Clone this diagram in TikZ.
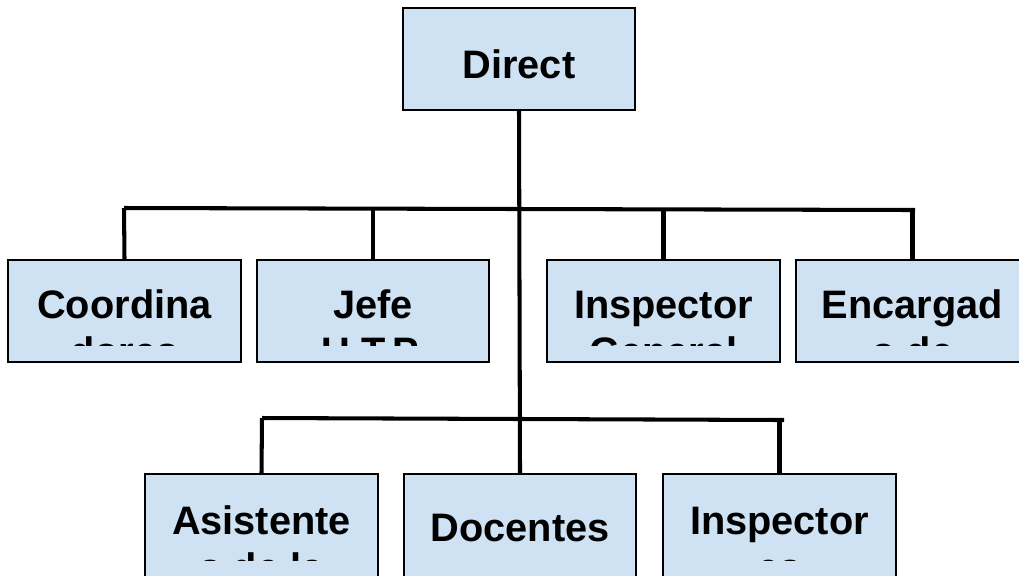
\documentclass[tikz,border=0pt]{standalone}
\usepackage{fontspec}
\setmainfont{Liberation Sans}
\definecolor{boxblue}{RGB}{207,226,243}
\tikzset{
  orgbox/.style={draw=black, line width=0.55pt, fill=boxblue, minimum width=2.32cm, minimum height=1.02cm, inner sep=0pt},
  orgtext/.style={anchor=base, inner sep=0pt, font=\fontsize{11.3}{13}\selectfont\bfseries},
  link/.style={line width=1.15pt}
}
\begin{document}
\begin{tikzpicture}[x=0.01cm,y=-0.01cm]
		\useasboundingbox (0,0) rectangle (1019,575);
		% boxes
		\node [orgbox] (Dir) at (519,59) {};
		\node [orgbox] (Coord) at (124.5,311) {};
		\node [orgbox] (Jefe) at (373,311) {};
		\node [orgbox] (InspG) at (663.5,311) {};
		\node [orgbox] (Enc) at (912.5,311) {};
		\node [orgbox, anchor=north, minimum height=1.2cm] (Asist) at (261.5,473) {};
		\node [orgbox, anchor=north, minimum height=1.2cm] (Doc) at (520,473) {};
		\node [orgbox, anchor=north, minimum height=1.2cm] (InspE) at (779.5,473) {};
		% first lines
		\node [orgtext] (DirT) at (519,78) {Direct};
		\node [orgtext] (CoordT) at (124.5,318) {Coordina};
		\node [orgtext] (JefeT) at (373,318) {Jefe};
		\node [orgtext] (InspGT) at (663.5,318) {Inspector};
		\node [orgtext] (EncT) at (912.5,318) {Encargad};
		\node [orgtext] (AsistT) at (261.5,534) {Asistente};
		\node [orgtext] (DocT) at (520,541) {Docentes};
		\node [orgtext] (InspET) at (779.5,534) {Inspector};
		% second lines, cut off by the box
		\begin{scope}
			\clip (0,260) rectangle (1019,345);
			\node [orgtext] (CoordU) at (124.5,365) {dores};
			\node [orgtext] (JefeU) at (373,365) {U.T.P.};
			\node [orgtext] (InspGU) at (663.5,365) {General};
			\node [orgtext] (EncU) at (912.5,365) {o de};
		\end{scope}
		\begin{scope}
			\clip (0,473) rectangle (1019,560);
			\node [orgtext] (AsistU) at (261.5,581) {s de la};
			\node [orgtext] (InspEU) at (779.5,581) {es};
		\end{scope}
		% connectors
		\coordinate (b1l) at (124,208);
		\coordinate (b1r) at (915,210);
		\coordinate (b2l) at (262,418);
		\coordinate (b2r) at (784,420);
		\draw [link] (Dir.south) -- (Doc.north);
		\draw [link] (b1l) -- (b1r);
		\draw [link] (b1l) -- (Coord.north);
		\draw [link] (Jefe.north |- b1l) -- (Jefe.north);
		\draw [link] (InspG.north |- b1r) -- (InspG.north);
		\draw [link] (Enc.north |- b1r) -- (Enc.north);
		\draw [link] (b2l) -- (b2r);
		\draw [link] (b2l) -- (Asist.north);
		\draw [link] (InspE.north |- b2r) -- (InspE.north);
	\end{tikzpicture}
\end{document}
